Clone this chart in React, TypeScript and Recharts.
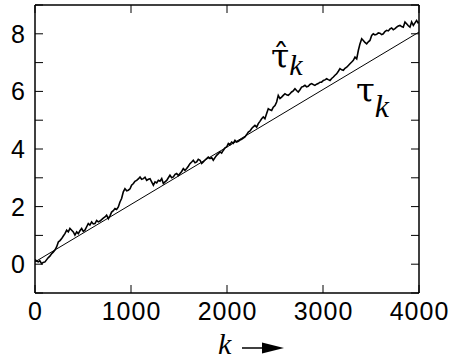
import React from "react";
import { LineChart, Line, XAxis, YAxis } from "recharts";

// iteration index k
const kValues: number[] = [
  0, 20, 35, 50, 69, 85, 104, 120, 139, 155, 174, 190, 208, 225, 243, 260, 278, 295, 312, 330,
  347, 364, 382, 399, 416, 434, 451, 468, 486, 503, 520, 538, 555, 572, 590, 607, 625, 642, 659, 677,
  694, 711, 729, 746, 764, 781, 798, 816, 833, 850, 868, 885, 902, 920, 937, 955, 972, 990, 1006, 1025,
  1041, 1059, 1076, 1094, 1111, 1129, 1146, 1163, 1181, 1198, 1215, 1233, 1250, 1268, 1285, 1302, 1320, 1337, 1354, 1372,
  1389, 1406, 1424, 1441, 1459, 1476, 1493, 1510, 1528, 1545, 1562, 1580, 1597, 1614, 1632, 1649, 1667, 1684, 1701, 1719,
  1736, 1753, 1771, 1788, 1805, 1823, 1840, 1857, 1875, 1892, 1910, 1927, 1944, 1961, 1979, 1996, 2014, 2031, 2048, 2066,
  2083, 2100, 2118, 2135, 2152, 2170, 2187, 2205, 2222, 2240, 2257, 2274, 2291, 2309, 2326, 2343, 2361, 2378, 2395, 2413,
  2430, 2448, 2465, 2482, 2500, 2517, 2534, 2552, 2569, 2586, 2604, 2621, 2638, 2656, 2673, 2690, 2708, 2725, 2742, 2760,
  2777, 2794, 2812, 2829, 2846, 2864, 2881, 2898, 2916, 2933, 2950, 2969, 2985, 3004, 3020, 3038, 3055, 3073, 3090, 3108,
  3125, 3142, 3160, 3177, 3195, 3212, 3229, 3247, 3264, 3281, 3299, 3316, 3333, 3351, 3368, 3385, 3403, 3420, 3437, 3455,
  3472, 3489, 3507, 3524, 3541, 3559, 3576, 3593, 3611, 3628, 3645, 3663, 3680, 3698, 3715, 3732, 3750, 3767, 3784, 3802,
  3819, 3836, 3854, 3871, 3889, 3906, 3923, 3941, 3958, 3975, 3990, 4000,
];

// estimated tau-hat_k
const tauHatValues: number[] = [
  0.16, 0.10, 0.08, 0.12, 0.02, 0.06, 0.08, 0.15, 0.23, 0.28, 0.37, 0.42, 0.49, 0.60, 0.77, 0.82, 0.89, 0.98, 1.06, 1.18,
  1.12, 1.24, 1.18, 1.12, 1.01, 1.12, 1.06, 1.16, 1.24, 1.14, 1.18, 1.30, 1.41, 1.36, 1.47, 1.40, 1.41, 1.52, 1.47, 1.50,
  1.55, 1.60, 1.64, 1.70, 1.58, 1.68, 1.81, 1.86, 1.93, 1.90, 1.99, 2.16, 2.28, 2.51, 2.62, 2.55, 2.57, 2.62, 2.74, 2.80,
  2.88, 2.91, 2.96, 3.03, 2.95, 2.97, 3.02, 2.91, 2.95, 2.97, 2.86, 2.74, 2.86, 2.82, 2.91, 2.88, 2.97, 2.80, 2.86, 2.91,
  3.00, 3.09, 3.00, 3.03, 3.12, 3.15, 3.08, 3.15, 3.22, 3.32, 3.26, 3.32, 3.40, 3.49, 3.55, 3.61, 3.52, 3.55, 3.64, 3.61,
  3.50, 3.55, 3.62, 3.67, 3.72, 3.67, 3.70, 3.61, 3.70, 3.78, 3.84, 3.90, 3.86, 3.95, 4.04, 4.07, 4.19, 4.15, 4.24, 4.20,
  4.30, 4.24, 4.27, 4.31, 4.34, 4.38, 4.42, 4.50, 4.59, 4.63, 4.71, 4.77, 4.82, 4.76, 4.88, 4.96, 5.05, 5.11, 5.05, 5.23,
  5.40, 5.36, 5.34, 5.45, 5.51, 5.63, 5.86, 5.75, 5.80, 5.86, 5.92, 5.88, 5.86, 5.92, 5.98, 6.02, 6.09, 6.03, 5.98, 6.06,
  6.15, 6.17, 6.21, 6.16, 6.18, 6.24, 6.27, 6.24, 6.21, 6.25, 6.27, 6.32, 6.32, 6.38, 6.40, 6.44, 6.41, 6.38, 6.45, 6.50,
  6.56, 6.61, 6.70, 6.79, 6.75, 6.73, 6.80, 6.84, 6.90, 6.96, 7.02, 7.08, 7.19, 7.13, 7.42, 7.65, 7.83, 7.77, 7.70, 7.65,
  7.72, 7.77, 7.94, 8.00, 7.96, 7.98, 8.03, 8.02, 7.97, 8.00, 8.08, 8.12, 8.10, 8.17, 8.20, 8.14, 8.18, 8.23, 8.27, 8.29,
  8.25, 8.23, 8.41, 8.35, 8.28, 8.23, 8.41, 8.29, 8.38, 8.46, 8.38, 8.41,
];

// true tau_k (straight line), endpoints
const tauK: number[] = [0, 4000];
const tauValues: number[] = [0.08, 8.06];

const xTicks: number[] = [0, 1000, 2000, 3000, 4000];
const yTicks: number[] = [-1, 0, 1, 2, 3, 4, 5, 6, 7, 8, 9];
const yLabelTicks: number[] = [0, 2, 4, 6, 8];

const tauHatData = kValues.map((k, i) => ({ k, v: tauHatValues[i] }));
const tauData = tauK.map((k, i) => ({ k, v: tauValues[i] }));

const TICK = 8;
const SANS = "'Liberation Sans', Arial, sans-serif";
const SERIF = "'Liberation Serif', 'Times New Roman', serif";
const GREEK = "'DejaVu Serif', serif";
const LABEL_SIZE = 25;

const BottomTick = (p: any) => {
  const { x, y, payload } = p;
  return (
    <g>
      <line x1={x} y1={y} x2={x} y2={y - TICK} stroke="#000" strokeWidth={1} />
      <text
        x={x + 0.5}
        y={y + 27}
        textAnchor="middle"
        fontFamily={SANS}
        fontSize={LABEL_SIZE}
        letterSpacing={1}
        fill="#000"
      >
        {payload.value}
      </text>
    </g>
  );
};

const TopTick = (p: any) => {
  const { x, y } = p;
  return <line x1={x} y1={y} x2={x} y2={y + TICK} stroke="#000" strokeWidth={1} />;
};

const LeftTick = (p: any) => {
  const { x, y, payload } = p;
  const v = payload.value;
  return (
    <g>
      <line x1={x} y1={y} x2={x + TICK} y2={y} stroke="#000" strokeWidth={1} />
      {yLabelTicks.includes(v) ? (
        <text
          x={x - 9}
          y={y}
          dy="0.36em"
          textAnchor="end"
          fontFamily={SANS}
          fontSize={LABEL_SIZE}
          letterSpacing={1}
          fill="#000"
        >
          {v}
        </text>
      ) : null}
    </g>
  );
};

const RightTick = (p: any) => {
  const { x, y } = p;
  return <line x1={x} y1={y} x2={x - TICK} y2={y} stroke="#000" strokeWidth={1} />;
};

export default function App() {
  return (
    <div style={{ position: "absolute", left: 0, top: 0, width: 450, height: 360, background: "#fff" }}>
      <LineChart width={450} height={360} margin={{ top: 4, right: 30, bottom: 0, left: 0 }}>
        <XAxis
          xAxisId="b"
          dataKey="k"
          type="number"
          domain={[0, 4000]}
          ticks={xTicks}
          interval={0}
          height={67}
          tickSize={0}
          tickMargin={0}
          tickLine={false}
          axisLine={{ stroke: "#000", strokeWidth: 1.5 }}
          tick={<BottomTick />}
          allowDataOverflow
        />
        <XAxis
          xAxisId="t"
          orientation="top"
          dataKey="k"
          type="number"
          domain={[0, 4000]}
          ticks={xTicks}
          interval={0}
          height={1}
          tickSize={0}
          tickMargin={0}
          tickLine={false}
          axisLine={{ stroke: "#000", strokeWidth: 1.5 }}
          tick={<TopTick />}
          allowDataOverflow
        />
        <YAxis
          yAxisId="l"
          type="number"
          domain={[-1, 9]}
          ticks={yTicks}
          interval={0}
          width={35}
          tickSize={0}
          tickMargin={0}
          tickLine={false}
          axisLine={{ stroke: "#000", strokeWidth: 1.5 }}
          tick={<LeftTick />}
          allowDataOverflow
        />
        <YAxis
          yAxisId="r"
          orientation="right"
          type="number"
          domain={[-1, 9]}
          ticks={yTicks}
          interval={0}
          width={1}
          tickSize={0}
          tickMargin={0}
          tickLine={false}
          axisLine={{ stroke: "#000", strokeWidth: 1.5 }}
          tick={<RightTick />}
          allowDataOverflow
        />
        <Line
          xAxisId="t"
          yAxisId="r"
          data={tauData}
          dataKey="v"
          type="linear"
          stroke="none"
          dot={false}
          legendType="none"
          isAnimationActive={false}
        />
        <Line
          xAxisId="b"
          yAxisId="l"
          data={tauData}
          dataKey="v"
          type="linear"
          stroke="#000"
          strokeWidth={1}
          dot={false}
          isAnimationActive={false}
        />
        <Line
          xAxisId="b"
          yAxisId="l"
          data={tauHatData}
          dataKey="v"
          type="linear"
          stroke="#000"
          strokeWidth={1.6}
          dot={false}
          isAnimationActive={false}
        />
      </LineChart>
      <svg
        width={450}
        height={360}
        style={{ position: "absolute", left: 0, top: 0, pointerEvents: "none" }}
      >
        <text x={271} y={68} fontFamily={GREEK} fontSize={33} fill="#000">
          {"τ\u0302"}
          <tspan fontFamily={SERIF} fontStyle="italic" fontSize={30} dx={0} dy={7}>k</tspan>
        </text>
        <text x={356} y={102} fontFamily={GREEK} fontSize={34} fill="#000">
          τ
          <tspan fontFamily={SERIF} fontStyle="italic" fontSize={32} dy={15}>k</tspan>
        </text>
        <text x={218} y={354} fontFamily={SERIF} fontStyle="italic" fontSize={30} fill="#000">
          k
        </text>
        <line x1={242} y1={348} x2={264} y2={348} stroke="#000" strokeWidth={1.5} />
        <polygon points="262,342.5 284,348 262,353.5" fill="#000" />
      </svg>
    </div>
  );
}
